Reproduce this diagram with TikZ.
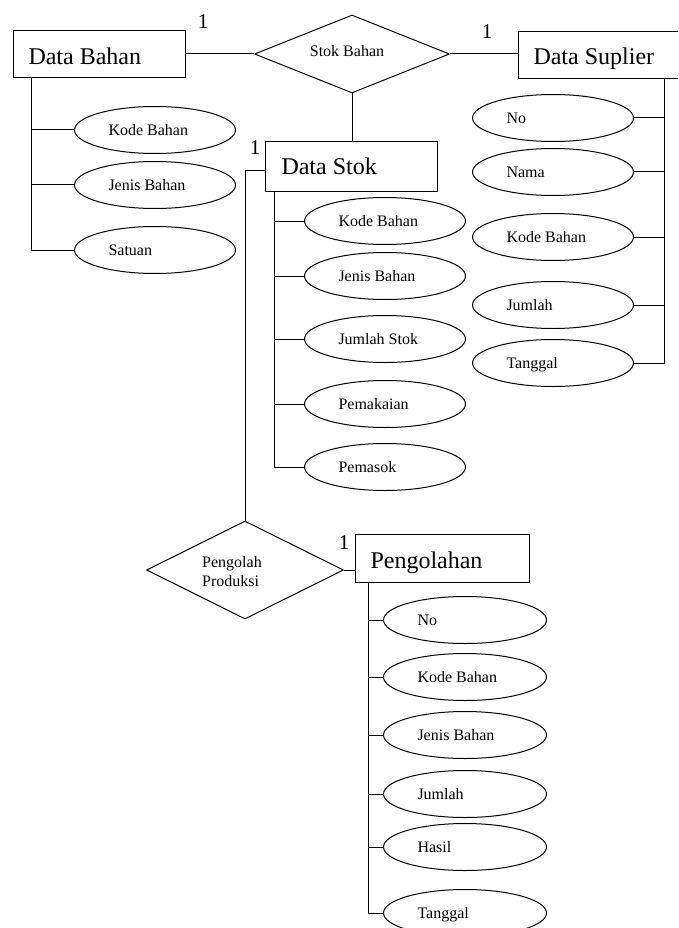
\documentclass[tikz,border=0pt]{standalone}
\usepackage{fontspec}
\setmainfont{Liberation Serif}
\usetikzlibrary{shapes.geometric}
\begin{document}
\begin{tikzpicture}[x=1pt,y=-1pt,line width=1pt,
  entity/.style={draw,rectangle,inner sep=0pt},
  etext/.style={anchor=base west,inner sep=0pt,font=\fontsize{24}{28}\selectfont},
  rel/.style={draw,diamond,inner sep=0pt},
  attr/.style={draw,ellipse,inner sep=0pt,minimum width=161pt,minimum height=47pt},
  atext/.style={anchor=base west,inner sep=0pt,xshift=34pt,yshift=-5.5pt,font=\fontsize{16}{19}\selectfont},
  small/.style={inner sep=0pt,font=\fontsize{16}{19}\selectfont},
  card/.style={inner sep=0pt,font=\fontsize{21}{24}\selectfont}]
\useasboundingbox (0,0) rectangle (678,928);
\clip (0,0) rectangle (678,928);

% entities
\node[entity,minimum width=172pt,minimum height=47pt] (DB) at (99,54.5) {};
\node[etext] (DBt) at (28,65) {Data Bahan};
\node[entity,minimum width=164pt,minimum height=47pt] (DS) at (600,55.5) {};
\node[etext] (DSt) at (533,65) {Data Suplier};
\node[entity,minimum width=172pt,minimum height=49pt] (DK) at (351,166.5) {};
\node[etext] (DKt) at (281,175) {Data Stok};
\node[entity,minimum width=174pt,minimum height=48pt] (PG) at (442,558) {};
\node[etext] (PGt) at (370,568) {Pengolahan};

% relations
\node[rel,minimum width=195pt,minimum height=78pt] (SB) at (352,54) {};
\node[small] (SBt) at (347,51) {Stok Bahan};
\node[rel,minimum width=197pt,minimum height=98pt] (PP) at (245,570) {};
\node[small,align=left] (PPt) at (232,572) {Pengolah\\Produksi};

% cardinalities
\node[card] (c1) at (203,22) {1};
\node[card] (c2) at (487,32) {1};
\node[card] (c3) at (255,148) {1};
\node[card] (c4) at (344,543) {1};

% relationship lines
\draw (DB.east |- SB.west) -- (SB.west);
\draw (SB.east) -- (SB.east -| DS.west);
\draw (SB.south) -- (SB.south |- DK.north);
\coordinate (dkl) at (265,171);
\draw (dkl) -| (PP.north);
\draw (PP.east) -- (PP.east -| PG.west);

% Data Bahan attributes
\node[attr] (b1) at (155,130) {}; \node[atext] at (b1.west) {Kode Bahan};
\node[attr] (b2) at (155,185) {}; \node[atext] at (b2.west) {Jenis Bahan};
\node[attr] (b3) at (155,250) {}; \node[atext] at (b3.west) {Satuan};
\coordinate (tb) at (31,78);
\draw (tb) |- (b1.west); \draw (tb) |- (b2.west); \draw (tb) |- (b3.west);

% Data Suplier attributes
\node[attr] (s1) at (553,118) {}; \node[atext] at (s1.west) {No};
\node[attr] (s2) at (553,172) {}; \node[atext] at (s2.west) {Nama};
\node[attr] (s3) at (553,237) {}; \node[atext] at (s3.west) {Kode Bahan};
\node[attr] (s4) at (553,305) {}; \node[atext] at (s4.west) {Jumlah};
\node[attr] (s5) at (553,363) {}; \node[atext] at (s5.west) {Tanggal};
\coordinate (ts) at (664,79);
\draw (ts) |- (s1.east); \draw (ts) |- (s2.east); \draw (ts) |- (s3.east);
\draw (ts) |- (s4.east); \draw (ts) |- (s5.east);

% Data Stok attributes
\node[attr] (k1) at (385,221) {}; \node[atext] at (k1.west) {Kode Bahan};
\node[attr] (k2) at (385,276) {}; \node[atext] at (k2.west) {Jenis Bahan};
\node[attr] (k3) at (385,339) {}; \node[atext] at (k3.west) {Jumlah Stok};
\node[attr] (k4) at (385,404) {}; \node[atext] at (k4.west) {Pemakaian};
\node[attr] (k5) at (385,467) {}; \node[atext] at (k5.west) {Pemasok};
\coordinate (tk) at (274,191);
\draw (tk) |- (k1.west); \draw (tk) |- (k2.west); \draw (tk) |- (k3.west);
\draw (tk) |- (k4.west); \draw (tk) |- (k5.west);

% Pengolahan attributes
\node[attr,minimum width=163pt] (p1) at (465,620) {}; \node[atext] at (p1.west) {No};
\node[attr,minimum width=163pt] (p2) at (465,677) {}; \node[atext] at (p2.west) {Kode Bahan};
\node[attr,minimum width=163pt] (p3) at (465,735) {}; \node[atext] at (p3.west) {Jenis Bahan};
\node[attr,minimum width=163pt] (p4) at (465,794) {}; \node[atext] at (p4.west) {Jumlah};
\node[attr,minimum width=163pt] (p5) at (465,847) {}; \node[atext] at (p5.west) {Hasil};
\node[attr,minimum width=163pt] (p6) at (465,913) {}; \node[atext] at (p6.west) {Tanggal};
\coordinate (tp) at (368,582);
\draw (tp) |- (p1.west); \draw (tp) |- (p2.west); \draw (tp) |- (p3.west);
\draw (tp) |- (p4.west); \draw (tp) |- (p5.west); \draw (tp) |- (p6.west);
\end{tikzpicture}
\end{document}
